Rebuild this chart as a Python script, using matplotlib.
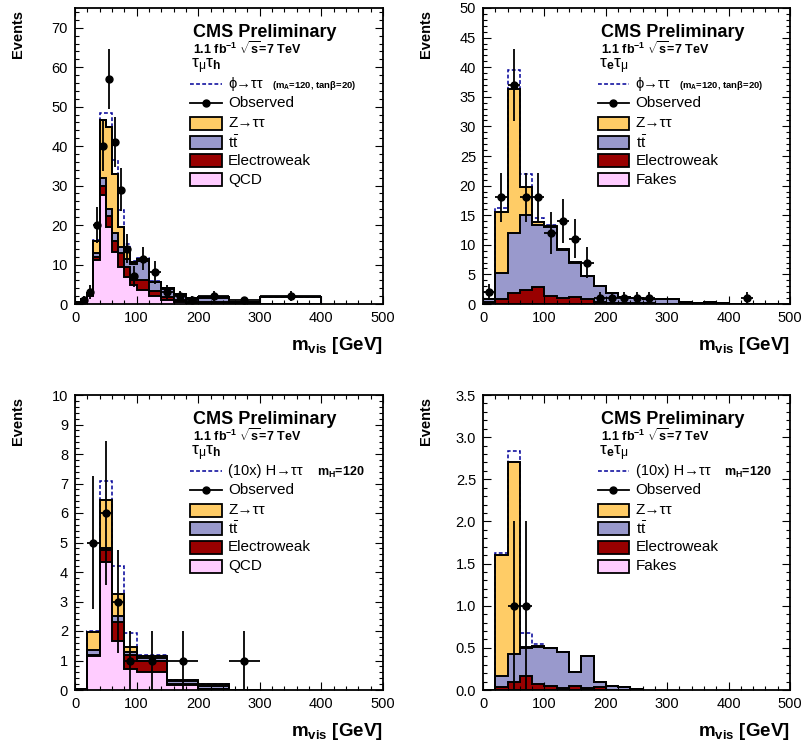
import numpy as np
import matplotlib
matplotlib.use("Agg")
from matplotlib import pyplot as plt
from matplotlib.lines import Line2D
from matplotlib.patches import Rectangle
from matplotlib.ticker import MultipleLocator, FormatStrFormatter

plt.rcParams['font.family'] = ['Liberation Sans', 'DejaVu Sans']
plt.rcParams['mathtext.fontset'] = 'custom'
plt.rcParams['mathtext.rm'] = 'Liberation Sans'
plt.rcParams['mathtext.bf'] = 'Liberation Sans:bold'
plt.rcParams['mathtext.it'] = 'Liberation Sans:italic'
plt.rcParams['mathtext.default'] = 'regular'

c_ztt = '#ffcc66'
c_tt = '#9999cc'
c_ewk = '#990000'
c_qcd = '#ffccff'
c_sig = '#000099'
nan = np.nan

# ---- mu-tau, MSSM selection ----
mt_edges = [0, 10, 20, 30, 40, 50, 60, 70, 80, 90, 100, 120, 140, 160, 180, 200, 250, 300, 400]
mt_qcd = [0.2, 0.7, 2.0, 11.1, 27.7, 19.5, 13.2, 9.5, 6.9, 4.8, 3.5, 2.0, 1.0, 0.5, 0.2, 0.1, 0.0, 0.0]
mt_ewk = [0.05, 0.15, 0.3, 0.9, 2.1, 2.7, 2.7, 3.3, 2.6, 1.3, 2.6, 1.4, 0.8, 0.4, 0.3, 0.3, 0.2, 0.0]
mt_tt = [0.05, 0.1, 0.2, 0.8, 2.0, 1.8, 2.0, 1.7, 1.8, 4.1, 4.7, 2.1, 2.0, 1.3, 0.8, 1.2, 0.2, 0.1]
mt_ztt = [0.1, 0.25, 0.3, 3.2, 14.9, 20.9, 15.1, 5.1, 2.2, 0.5, 0.5, 0.2, 0.2, 0.3, 0.1, 0.2, 0.1, 0.0]
mt_other = [0, 0, 0, 0, 0, 0, 0, 0, 0, 0, 0, 0, 0, 0, 0, 0, 0, 1.8]
mt_sig = [0, 0, 0, 0.3, 1.6, 3.4, 3.5, 4.2, 1.7, 0.2, 0.3, 0.1, 0, 0, 0, 0, 0, 0]
mt_obs = [nan, 1, 3, 20, 40, 57, 41, 29, 14, 7, 11.5, 8, 3, 2, 1, 2, 1, 2]
mt_err = [nan, 1.0, 1.7, 4.5, 6.3, 7.5, 6.4, 5.4, 3.7, 2.6, 3.0, 3.0, 1.7, 1.3, 1.0, 1.3, 0.9, 1.2]

# ---- e-mu, MSSM selection ----
em_edges = [0, 20, 40, 60, 80, 100, 120, 140, 160, 180, 200, 220, 240, 260, 280, 300,
            320, 340, 360, 380, 400, 420, 440, 460, 480, 500]
em_fakes = [0] * 25
em_ewk = [0.3, 0.85, 1.9, 2.4, 2.8, 1.4, 1.0, 1.2, 0.85, 0.4, 0.2, 0.2, 0.1, 0.1, 0.05, 0.05,
          0.05, 0, 0, 0, 0, 0, 0, 0, 0]
em_tt = [0.5, 4.45, 10.1, 12.6, 10.5, 11.6, 8.2, 5.8, 3.85, 2.6, 1.6, 1.0, 0.9, 0.7, 0.75, 0.75,
         0.35, 0.2, 0.3, 0.1, 0.05, 0.05, 0, 0, 0]
em_ztt = [0.1, 10.3, 24.4, 4.8, 0.5, 0.1, 0.05, 0.05, 0.05, 0.05, 0.05, 0.05, 0, 0, 0, 0,
          0, 0, 0, 0, 0, 0, 0, 0, 0]
em_sig = [0, 0.6, 3.2, 2.2, 0.7, 0.3, 0.1, 0, 0, 0, 0, 0, 0, 0, 0, 0, 0, 0, 0, 0, 0, 0, 0, 0, 0]
em_obs = [2, 18, 37, 18, 18, 12, 14, 11, 7, 1, 1, 1, 1, 1, nan, nan, nan, nan, nan, nan, nan, 1,
          nan, nan, nan]
em_err = [1.4, 4.2, 6.1, 4.2, 4.2, 3.5, 3.7, 3.3, 2.6, 1, 1, 1, 1, 1, nan, nan, nan, nan, nan,
          nan, nan, 1, nan, nan, nan]

# ---- mu-tau, SM selection ----
mts_edges = [0, 20, 40, 60, 80, 100, 150, 200, 250, 300]
mts_qcd = [0.05, 1.15, 4.35, 1.65, 0.7, 0.6, 0.17, 0.02, 0]
mts_ewk = [0, 0.05, 0.4, 0.65, 0.5, 0.4, 0.03, 0.03, 0]
mts_tt = [0, 0.15, 0.05, 0.2, 0.1, 0.1, 0.1, 0.07, 0]
mts_ztt = [0, 0.6, 1.65, 0.75, 0.17, 0.05, 0.03, 0.08, 0]
mts_sig = [0, 0.05, 0.65, 0.95, 0.45, 0.05, 0, 0, 0]
mts_obs = [nan, 5, 6, 3, 1, 1, 1, nan, 1]
mts_err = [nan, 2.24, 2.45, 1.73, 1, 1, 1, nan, 1]

# ---- e-mu, SM selection ----
ems_edges = [0, 20, 40, 60, 80, 100, 120, 140, 160, 180, 200, 220, 240, 260]
ems_fakes = [0] * 13
ems_ewk = [0, 0.04, 0.1, 0.17, 0.07, 0.05, 0.02, 0.05, 0.02, 0.04, 0, 0, 0]
ems_tt = [0, 0.13, 0.33, 0.33, 0.44, 0.45, 0.43, 0.16, 0.38, 0.05, 0.05, 0.03, 0.01]
ems_ztt = [0, 1.43, 2.27, 0.01, 0.01, 0, 0, 0, 0, 0, 0, 0, 0]
ems_sig = [0, 0.03, 0.13, 0.17, 0.02, 0, 0, 0, 0, 0, 0, 0, 0]
ems_obs = [nan, nan, 1, 1, nan, nan, nan, nan, nan, nan, nan, nan, nan]
ems_err = [nan, nan, 1, 1, nan, nan, nan, nan, nan, nan, nan, nan, nan]


def draw_hist(ax, edges, comps, colors, sig, obs, err):
    edges = np.array(edges, dtype=float)
    cum = np.cumsum(np.array(comps, dtype=float), axis=0)
    for k in range(len(comps) - 1, -1, -1):
        ax.stairs(cum[k], edges, fill=True, facecolor=colors[k], edgecolor='none', lw=0, zorder=1)
    ax.stairs(cum[-1] + np.array(sig), edges, fill=False, color=c_sig, lw=1.1,
              ls=(0, (2.5, 1.5)), zorder=2)
    for k in range(len(comps) - 1, -1, -1):
        ax.stairs(cum[k], edges, fill=False, color='k', lw=1.4, zorder=3)
    centers = 0.5 * (edges[1:] + edges[:-1])
    halfw = 0.5 * (edges[1:] - edges[:-1])
    obs = np.array(obs, dtype=float)
    m = ~np.isnan(obs)
    ax.errorbar(centers[m], obs[m], yerr=np.array(err)[m], xerr=halfw[m], fmt='o', color='k',
                ms=5, lw=1.3, capsize=0, zorder=5, clip_on=False)


def style(ax, ymax, major, minor, fmt):
    ax.set_xlim(0, 500)
    ax.set_ylim(0, ymax)
    ax.xaxis.set_major_locator(MultipleLocator(100))
    ax.xaxis.set_minor_locator(MultipleLocator(20))
    ax.yaxis.set_major_locator(MultipleLocator(major))
    ax.yaxis.set_minor_locator(MultipleLocator(minor))
    ax.yaxis.set_major_formatter(FormatStrFormatter(fmt))
    ax.tick_params(which='both', direction='in', top=True, right=True, labelsize=10.5, width=0.8)
    ax.tick_params(which='major', length=5.5, pad=5)
    ax.tick_params(which='minor', length=2.8)
    for s in ax.spines.values():
        s.set_linewidth(1.3)


def legend(ax, chan, sig_main, sig_extra, extra_x, extra_size, last_label):
    tr = ax.transAxes
    x0, x1, xt = 0.373, 0.477, 0.497
    ax.text(0.383, 0.917, 'CMS Preliminary', transform=tr, fontsize=13, fontweight='bold',
            va='center')
    ax.text(0.383, 0.862, r'1.1 fb$^{\mathbf{-1}}$ $\sqrt{\mathbf{s}}$=7 TeV',
            transform=tr, fontsize=9, fontweight='bold', va='center')
    ax.text(0.378, 0.803, chan, transform=tr, fontsize=12.5, va='center')
    rows = [0.742, 0.678, 0.610, 0.547, 0.484, 0.419]
    h = 0.044
    ax.add_line(Line2D([x0, x1], [rows[0], rows[0]], transform=tr, color=c_sig, lw=1.1,
                       ls=(0, (2.5, 1.5)), clip_on=False))
    ax.text(xt, rows[0], sig_main, transform=tr, fontsize=10.5, va='center')
    ax.text(extra_x, rows[0] - 0.004, sig_extra, transform=tr, fontsize=extra_size,
            fontweight='bold', va='center')
    ax.add_line(Line2D([x0, x1], [rows[1], rows[1]], transform=tr, color='k', lw=1.3,
                       clip_on=False))
    ax.add_line(Line2D([0.5 * (x0 + x1)], [rows[1]], transform=tr, color='k', marker='o',
                       ms=5, clip_on=False))
    ax.text(xt, rows[1], 'Observed', transform=tr, fontsize=11, va='center')
    labels = [r'Z→ττ', r'$t\bar{t}$', 'Electroweak', last_label]
    cols = [c_ztt, c_tt, c_ewk, c_qcd]
    for y, lab, col in zip(rows[2:], labels, cols):
        ax.add_patch(Rectangle((x0, y - h / 2), x1 - x0, h, transform=tr, facecolor=col,
                               edgecolor='k', lw=1.3, clip_on=False))
        ax.text(xt, y, lab, transform=tr, fontsize=11, va='center')


fig = plt.figure(figsize=(8.07, 7.49), dpi=100)
W, H = 807.0, 749.0
boxes = [(75, 8, 383, 304), (483, 8, 790, 304), (75, 395, 383, 690), (483, 395, 790, 690)]
axs = [fig.add_axes([l / W, 1 - b / H, (r - l) / W, (b - t) / H]) for (l, t, r, b) in boxes]

draw_hist(axs[0], mt_edges, [mt_qcd, mt_ewk, mt_tt, mt_ztt, mt_other],
          [c_qcd, c_ewk, c_tt, c_ztt, 'white'], mt_sig, mt_obs, mt_err)
draw_hist(axs[1], em_edges, [em_fakes, em_ewk, em_tt, em_ztt],
          [c_qcd, c_ewk, c_tt, c_ztt], em_sig, em_obs, em_err)
draw_hist(axs[2], mts_edges, [mts_qcd, mts_ewk, mts_tt, mts_ztt],
          [c_qcd, c_ewk, c_tt, c_ztt], mts_sig, mts_obs, mts_err)
draw_hist(axs[3], ems_edges, [ems_fakes, ems_ewk, ems_tt, ems_ztt],
          [c_qcd, c_ewk, c_tt, c_ztt], ems_sig, ems_obs, ems_err)

style(axs[0], 75, 10, 2, '%d')
style(axs[1], 50, 5, 1, '%d')
style(axs[2], 10, 1, 0.2, '%d')
style(axs[3], 3.5, 0.5, 0.1, '%.1f')

ch_mt = r'$τ_{μ}τ_{\mathbf{h}}$'
ch_em = r'$τ_{\mathbf{e}}τ_{μ}$'
mssm_extra = r'(m$_{\mathbf{A}}$=120, tanβ=20)'
sm_extra = r'm$_{\mathbf{H}}$=120'
legend(axs[0], ch_mt, 'ϕ→ττ', mssm_extra, 0.639, 6.8, 'QCD')
legend(axs[1], ch_em, 'ϕ→ττ', mssm_extra, 0.638, 6.8, 'Fakes')
legend(axs[2], ch_mt, '(10x) H→ττ', sm_extra, 0.785, 9, 'QCD')
legend(axs[3], ch_em, '(10x) H→ττ', sm_extra, 0.785, 9, 'Fakes')

for (l, t, r, b) in boxes:
    fig.text((l - 57) / W, 1 - (t + 2) / H, 'Events', rotation=90, ha='center', va='top',
             fontsize=10.5, fontweight='bold')
    fig.text(r / W, 1 - (b + 42) / H, r'm$_{\mathbf{vis}}$ [GeV]', ha='right', va='center',
             fontsize=13.5, fontweight='bold')

fig.savefig('out.png', dpi=100)
